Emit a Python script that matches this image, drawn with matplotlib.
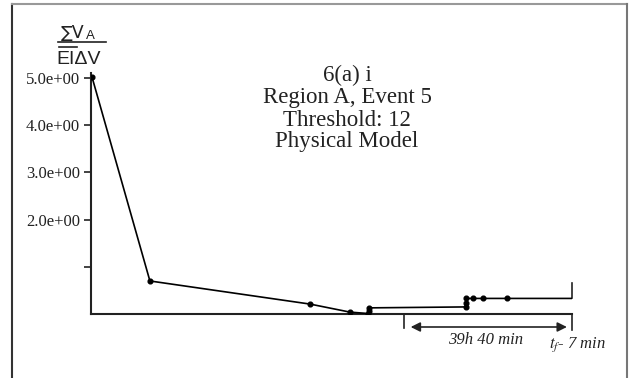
import matplotlib
matplotlib.use("Agg")
import matplotlib.pyplot as plt
from matplotlib.lines import Line2D
from matplotlib.transforms import blended_transform_factory

plt.rcParams["mathtext.fontset"] = "stix"

# ---- data (hours from start, ratio value) ----
times = [0.24, 13.9, 51.7, 61.1, 65.4, 65.5, 65.7, 88.5, 88.5, 88.5, 90.1, 92.5, 98.2]
values = [5.02, 0.70, 0.21, 0.04, 0.01, 0.07, 0.13, 0.15, 0.23, 0.33, 0.33, 0.33, 0.33]
t_end = 113.5              # t_f - 7 min
window_hours = 39 + 40 / 60.0
ytick_vals = [1, 2, 3, 4, 5]
ytick_labels = ["", "2.0e+00", "3.0e+00", "4.0e+00", "5.0e+00"]
title_lines = ["6(a) i", "Region A, Event 5", "Threshold: 12", "Physical Model"]

W, H = 629, 378
fig = plt.figure(figsize=(W / 100, H / 100), dpi=100)

def fx(px):
    return px / W

def fy(py):
    return 1 - py / H

serif = "Liberation Serif"
sans = "Liberation Sans"
ink = "#222222"

ax = fig.add_axes([fx(91), fy(314), fx(572) - fx(91), fy(73.3) - fy(314)])
ax.set_xlim(0, t_end)
ax.set_ylim(0, 5.1)

line_t = times + [t_end]
line_v = values + [values[-1]]
ax.plot(line_t, line_v, color="black", lw=1.2, zorder=3)
ax.plot(times, values, linestyle="none", marker="o", ms=3.4, color="black", zorder=4)

for s in ["top", "right"]:
    ax.spines[s].set_visible(False)
for s in ["left", "bottom"]:
    ax.spines[s].set_linewidth(1.5)
    ax.spines[s].set_color(ink)

ax.set_xticks([])
ax.set_yticks(ytick_vals)
ax.set_yticklabels(ytick_labels, fontfamily=serif, fontsize=12)
ax.tick_params(axis="y", direction="out", length=5, width=1.2, pad=3, colors=ink)

# annotations below axis
trans = blended_transform_factory(ax.transData, ax.transAxes)
px_per_unit = (314 - 73.3)
def ay(py):
    return (314 - py) / px_per_unit

t_start = t_end - window_hours
ax.add_line(Line2D([t_start, t_start], [0, ay(328)], transform=trans, color=ink, lw=1.2, clip_on=False))
ax.add_line(Line2D([t_end, t_end], [0, ay(330)], transform=trans, color=ink, lw=1.2, clip_on=False))
ax.add_line(Line2D([t_end, t_end], [values[-1], 0.66], transform=ax.transData, color=ink, lw=1.2, clip_on=False))
ax.annotate("", xy=(t_end - 1.2, ay(327)), xytext=(t_start + 1.6, ay(327)),
            xycoords=trans, textcoords=trans,
            arrowprops=dict(arrowstyle="<|-|>", color=ink, lw=1.2,
                            mutation_scale=14, shrinkA=0, shrinkB=0))
ax.text(t_start + window_hours / 2 - 0.5, ay(340), "39h 40 min", transform=trans,
        ha="center", va="center", fontfamily=serif, style="italic", fontsize=12, color=ink)
ax.text(t_end - 5.4, ay(345), r"$t_f$" + "- 7 min", transform=trans,
        ha="left", va="center", fontfamily=serif, style="italic", fontsize=12, color=ink)

# title block
baselines = [81, 103, 126, 147]
for txt, py in zip(title_lines, baselines):
    fig.text(fx(347), fy(py), txt, ha="center", va="baseline", fontfamily=serif,
             fontsize=16.5, color=ink)

# y-axis fraction label
fig.text(fx(61), fy(33), "\u2211V", ha="left", va="center", fontfamily=["DejaVu Sans"], fontsize=12.5, color=ink)
fig.text(fx(86), fy(36), "A", ha="left", va="center", fontfamily=sans, fontsize=9.5, color=ink)
fig.add_artist(Line2D([fx(58), fx(106)], [fy(42), fy(42)], color=ink, lw=1.2))
fig.add_artist(Line2D([fx(59), fx(77)], [fy(47), fy(47)], color=ink, lw=1.2))
fig.text(fx(79), fy(59), "EI\u0394V", ha="center", va="center", fontfamily=sans, fontsize=14, color=ink)

# outer frame
fig.add_artist(Line2D([fx(12), fx(12)], [fy(4), 0], color="#333333", lw=1.5))
fig.add_artist(Line2D([fx(12), fx(627)], [fy(4), fy(4)], color="#999999", lw=1.5))
fig.add_artist(Line2D([fx(627), fx(627)], [fy(4), 0], color="#777777", lw=1.5))

fig.savefig("out.png", dpi=100)
